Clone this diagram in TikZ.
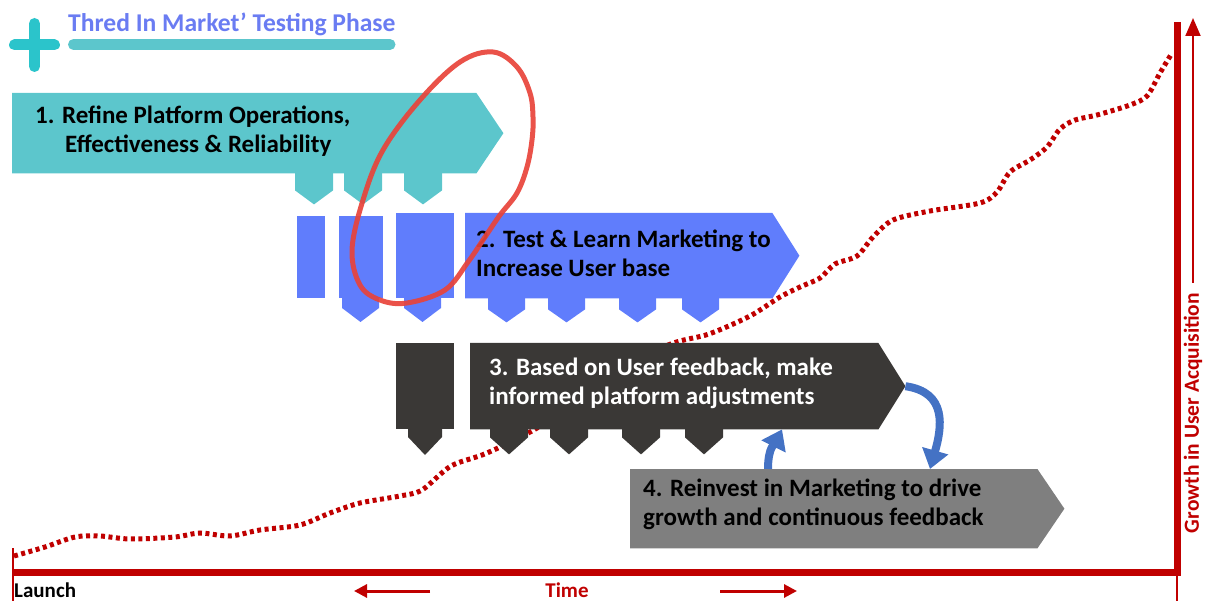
\documentclass[tikz,border=0pt]{standalone}
\usepackage{fontspec}
\setmainfont{Carlito}
\usetikzlibrary{positioning,arrows.meta}

\definecolor{tealbox}{HTML}{5CC6CC}
\definecolor{tealplus}{HTML}{2BC4CB}
\definecolor{bluebox}{HTML}{607DFC}
\definecolor{titleblue}{HTML}{6A7CF2}
\definecolor{darkbox}{HTML}{3A3836}
\definecolor{greybox}{HTML}{7F7F7F}
\definecolor{axisred}{HTML}{C00000}
\definecolor{markred}{HTML}{E8433A}
\definecolor{loopblue}{HTML}{4472C4}

\begin{document}
\begin{tikzpicture}[
        x=1pt, y=-1pt,
        stepbody/.style={anchor=north west, inner sep=0pt, minimum height=#1},
        boxtext/.style={anchor=west, inner sep=0pt, align=left,
            font=\bfseries\fontsize{25}{29}\selectfont},
        feedback/.style={loopblue, line width=8pt, -{Triangle[width=26pt,length=19pt]}},
        axis/.style={axisred, line width=#1}
    ]
    \useasboundingbox (0,0) rectangle (1205,601);

    % Growth curve (goes behind the boxes)
    \draw[axisred, line width=5pt, dash pattern=on 4pt off 3.5pt]
        plot[smooth, tension=0.5] coordinates {
            (14,556) (45,547) (75,537) (100,536) (130,539) (175,537) (200,533)
            (230,536) (260,530) (300,525) (330,513) (360,503) (400,496) (422,490)
            (451,466) (487,453) (537,428) (600,385) (666,346) (709,334) (750,316)
            (780,297) (800,287) (820,278) (835,264) (857,256) (873,237) (893,220)
            (930,211) (980,203) (997,192) (1010,172) (1030,160) (1047,147) (1060,129)
            (1075,120) (1097,115) (1130,105) (1147,96) (1160,73) (1172,53)};

    % Title
    \draw[tealplus, line width=11pt, line cap=round] (34.5,23.5) -- (34.5,66.5) (14.5,45) -- (54.5,45);
    \node[anchor=base west, inner sep=0pt, text=titleblue, font=\bfseries\fontsize{25.6}{30}\selectfont]
        (title) at (68,32) {Thred In Market’ Testing Phase};
    \draw[tealbox, line width=11pt, line cap=round] (73.5,44.5) -- (390,44.5);

    % Step 1
    \node[stepbody=80pt, minimum width=464pt] (refine) at (12,93) {};
    \coordinate (refine tip) at ([xshift=27pt]refine.east);
    \fill[tealbox] (refine.north west) -- (refine.north east) -- (refine tip)
        -- (refine.south east) -- (refine.south west) -- cycle;
    \foreach \x in {283,332,392}
        \fill[tealbox] ([xshift=\x pt, yshift=1pt]refine.south west) -- ++(0,18) -- ++(19,14) -- ++(19,-14) -- ++(0,-18) -- cycle;
    \node[boxtext] (refinetxt) at ([xshift=23pt, yshift=2pt]refine.west)
        {1. Refine Platform Operations,\\\hspace*{30pt}Effectiveness \& Reliability};

    % Step 2
    \fill[bluebox] (297,216) rectangle (325,298);
    \fill[bluebox] (339,216) rectangle (383,298);
    \fill[bluebox] (396,213) rectangle (454,298);
    \foreach \x in {342,404}
        \fill[bluebox] (\x,297) -- ++(0,11) -- ++(18.5,14) -- ++(18.5,-14) -- ++(0,-11) -- cycle;
    \node[stepbody=85pt, minimum width=307pt] (test) at (465,213) {};
    \coordinate (test tip) at ([xshift=27pt]test.east);
    \fill[bluebox] (test.north west) -- (test.north east) -- (test tip)
        -- (test.south east) -- (test.south west) -- cycle;
    \foreach \x in {23,83,154,217}
        \fill[bluebox] ([xshift=\x pt, yshift=1pt]test.south west) -- ++(0,12) -- ++(18.5,13) -- ++(18.5,-13) -- ++(0,-12) -- cycle;
    \node[boxtext] (testtxt) at ([xshift=11pt, yshift=2pt]test.west)
        {2. Test \& Learn Marketing to\\Increase User base};

    % Step 3
    \fill[darkbox] (396,343) rectangle (454,429);
    \fill[darkbox] (408,428) -- ++(0,9) -- ++(17,18) -- ++(17,-18) -- ++(0,-9) -- cycle;
    \node[stepbody=86pt, minimum width=408pt] (adjust) at (470,343) {};
    \coordinate (adjust tip) at ([xshift=27pt]adjust.east);
    \fill[darkbox] (adjust.north west) -- (adjust.north east) -- (adjust tip)
        -- (adjust.south east) -- (adjust.south west) -- cycle;
    \foreach \x in {20,80,152,215}
        \fill[darkbox] ([xshift=\x pt, yshift=1pt]adjust.south west) -- ++(0,9) -- ++(19,17) -- ++(19,-17) -- ++(0,-9) -- cycle;
    \node[boxtext, text=white] (adjusttxt) at ([xshift=19pt, yshift=3pt]adjust.west)
        {3. Based on User feedback, make\\informed platform adjustments};

    % Step 4
    \node[stepbody=79pt, minimum width=407pt] (reinvest) at (630,469) {};
    \coordinate (reinvest tip) at ([xshift=27pt]reinvest.east);
    \fill[greybox] (reinvest.north west) -- (reinvest.north east) -- (reinvest tip)
        -- (reinvest.south east) -- (reinvest.south west) -- cycle;
    \node[boxtext] (reinvesttxt) at ([xshift=13pt, yshift=4pt]reinvest.west)
        {4. Reinvest in Marketing to drive\\growth and continuous feedback};

    % Feedback loop between steps 3 and 4
    \draw[feedback] ([xshift=138pt]reinvest.north west) .. controls +(0,-22) and +(-7,14) .. ([xshift=312pt]adjust.south west);
    \draw[feedback] (adjust tip) .. controls +(42,6) and +(12,-42) .. ([xshift=300pt]reinvest.north west);

    % Hand drawn ring
    \draw[markred, line width=5pt, opacity=0.92]
        plot[smooth cycle, tension=0.6] coordinates {
            (493,52) (517,67) (530,93) (533,117) (532,140) (527,167) (517,193)
            (500,215) (485,237) (468,262) (445,290) (407,303) (380,300) (360,285)
            (352,250) (363,200) (383,150) (420,100) (460,62)};

    % Axes
    \draw[axis=7pt] (13,572) -- (1177,572) -- (1177,22);
    \draw[axis=1.2pt] (13,548) -- (13,601);
    \draw[axis=1.2pt] (1177,575) -- (1177,601);

    \node[rotate=90, inner sep=0pt, text=axisred, font=\bfseries\fontsize{21.5}{24}\selectfont]
        (growth) at (1193,413) {Growth in User Acquisition};
    \coordinate (growth top) at (1193,18);
    \draw[axis=2pt, -{Triangle[width=15pt,length=18pt]}] ([yshift=10pt]growth.east) -- (growth top);

    \node[anchor=west, inner sep=0pt, font=\bfseries\fontsize{21}{24}\selectfont] (launch) at (14,590) {Launch};
    \node[inner sep=0pt, text=axisred, font=\bfseries\fontsize{21}{24}\selectfont] (time) at (567,590) {Time};
    \coordinate (past) at (354,591);
    \coordinate (future) at (797,591);
    \draw[axis=3pt, -{Triangle[width=13pt,length=13pt]}] (430,591) -- (past);
    \draw[axis=3pt, -{Triangle[width=13pt,length=13pt]}] (720,591) -- (future);
\end{tikzpicture}
\end{document}
